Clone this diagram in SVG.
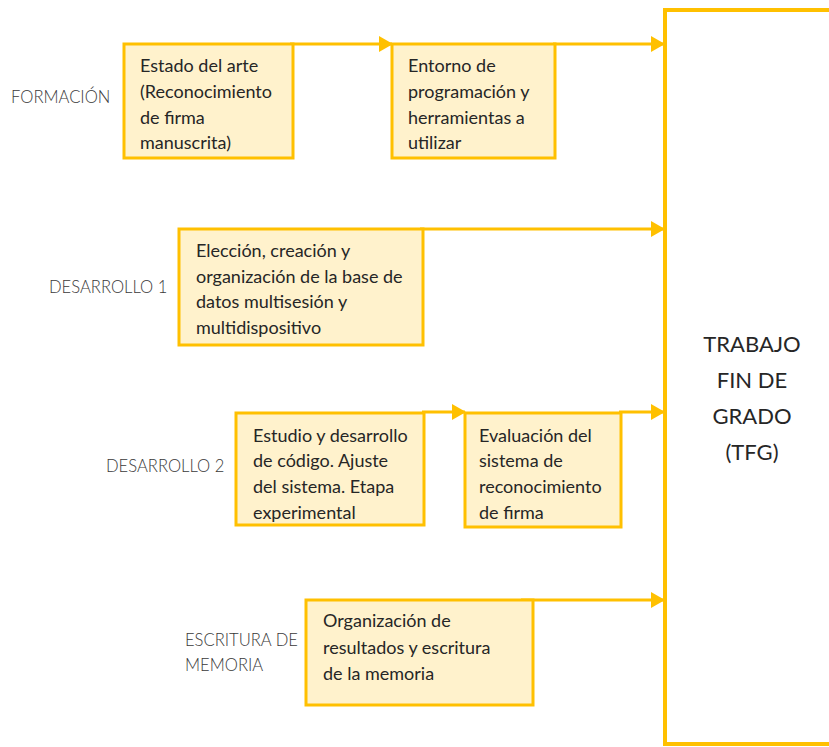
<svg xmlns="http://www.w3.org/2000/svg" width="829" height="747" viewBox="0 0 829 747">
  <style>
    .box { fill: #FFF2CC; stroke: #FFC000; stroke-width: 3; }
    .tfg { fill: #FFFFFF; stroke: #FFC000; stroke-width: 4; }
    .txt { font-family: Lato, "Open Sans", "Liberation Sans", sans-serif; font-size: 18px; fill: #262626; }
    .lbl { font-family: Lato, "Open Sans", "Liberation Sans", sans-serif; font-size: 16.6px; fill: #3A3A3A; font-weight: 300; }
    .big { font-family: Lato, "Open Sans", "Liberation Sans", sans-serif; font-size: 22px; fill: #262626; text-anchor: middle; }
    .link { fill: none; stroke: #FFC000; stroke-width: 3; marker-end: url(#head); }
  </style>
  <defs>
    <marker id="head" markerUnits="userSpaceOnUse" markerWidth="14" markerHeight="16" refX="13" refY="8" orient="auto">
      <path d="M0,0 L14,8 L0,16 Z" fill="#FFC000"/>
    </marker>
  </defs>

  <rect width="829" height="747" fill="#FFFFFF"/>

  <!-- phase labels -->
  <g id="labels">
    <text class="lbl" x="11" y="103">FORMACIÓN</text>
    <text class="lbl" x="49" y="293">DESARROLLO 1</text>
    <text class="lbl" x="106" y="472">DESARROLLO 2</text>
    <text class="lbl" x="185" y="646">ESCRITURA DE</text>
    <text class="lbl" x="185" y="671">MEMORIA</text>
  </g>

  <!-- final deliverable -->
  <g id="tfg">
    <rect class="tfg" x="665" y="10" width="180" height="734"/>
    <text class="big" x="752" y="352">TRABAJO</text>
    <text class="big" x="752" y="388">FIN DE</text>
    <text class="big" x="752" y="424">GRADO</text>
    <text class="big" x="752" y="460">(TFG)</text>
  </g>

  <!-- connectors -->
  <g id="connectors">
    <line class="link" x1="290" y1="44" x2="392" y2="44"/>
    <line class="link" x1="553" y1="44" x2="664" y2="44"/>
    <line class="link" x1="420" y1="229" x2="664" y2="229"/>
    <line class="link" x1="422" y1="412" x2="465" y2="412"/>
    <line class="link" x1="619" y1="412" x2="664" y2="412"/>
    <line class="link" x1="521" y1="600" x2="664" y2="600"/>
  </g>

  <g id="estado-arte">
    <rect class="box" x="124" y="44" width="169" height="114"/>
    <text class="txt" x="140" y="72">Estado del arte</text>
    <text class="txt" x="140" y="98">(Reconocimiento</text>
    <text class="txt" x="140" y="124">de firma</text>
    <text class="txt" x="140" y="149">manuscrita)</text>
  </g>

  <g id="entorno">
    <rect class="box" x="392" y="44" width="163" height="114"/>
    <text class="txt" x="408" y="72">Entorno de</text>
    <text class="txt" x="408" y="98">programación y</text>
    <text class="txt" x="408" y="124">herramientas a</text>
    <text class="txt" x="408" y="149">utilizar</text>
  </g>

  <g id="base-datos">
    <rect class="box" x="179" y="229" width="244" height="116"/>
    <text class="txt" x="196" y="257">Elección, creación y</text>
    <text class="txt" x="196" y="283">organización de la base de</text>
    <text class="txt" x="196" y="308">datos multisesión y</text>
    <text class="txt" x="196" y="334">multidispositivo</text>
  </g>

  <g id="estudio">
    <rect class="box" x="236" y="413" width="188" height="112"/>
    <text class="txt" x="253" y="442">Estudio y desarrollo</text>
    <text class="txt" x="253" y="467">de código. Ajuste</text>
    <text class="txt" x="253" y="493">del sistema. Etapa</text>
    <text class="txt" x="253" y="519">experimental</text>
  </g>

  <g id="evaluacion">
    <rect class="box" x="465" y="413" width="156" height="114"/>
    <text class="txt" x="479" y="442">Evaluación del</text>
    <text class="txt" x="479" y="467">sistema de</text>
    <text class="txt" x="479" y="493">reconocimiento</text>
    <text class="txt" x="479" y="519">de firma</text>
  </g>

  <g id="memoria">
    <rect class="box" x="306" y="600" width="227" height="105"/>
    <text class="txt" x="323" y="627">Organización de</text>
    <text class="txt" x="323" y="654">resultados y escritura</text>
    <text class="txt" x="323" y="680">de la memoria</text>
  </g>
</svg>
